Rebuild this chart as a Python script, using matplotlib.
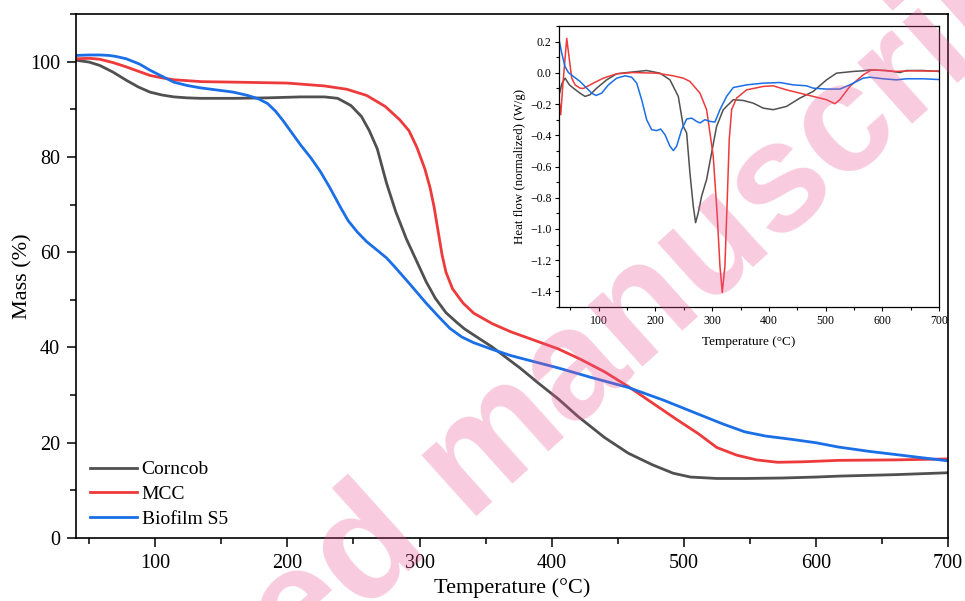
import numpy as np
import matplotlib
matplotlib.use('Agg')
import matplotlib.pyplot as plt
from matplotlib.ticker import MultipleLocator

plt.rcParams['font.family'] = ['Liberation Serif', 'DejaVu Serif']

# --- TGA curves (main panel) ---
corncob_T = [40, 50, 58, 68, 78, 87, 96, 105, 114, 124, 134, 160, 185, 210, 228, 238, 248, 256, 262, 268,
             275, 282, 290, 298, 305, 312, 320, 328, 334, 345, 355, 365, 376, 390, 405, 420, 440, 458,
             476, 492, 505, 525, 547, 575, 600, 618, 660, 700]
corncob_m = [100.3, 99.9, 99.2, 97.8, 96.1, 94.7, 93.6, 93.0, 92.6, 92.4, 92.3, 92.3, 92.4, 92.6, 92.6,
             92.3, 90.8, 88.5, 85.5, 81.7, 74.5, 68.5, 62.8, 58.0, 53.8, 50.3, 47.3, 45.3, 43.9, 41.9,
             40.1, 38.0, 35.7, 32.5, 29.2, 25.5, 21.1, 17.8, 15.4, 13.6, 12.8, 12.5, 12.5, 12.6, 12.8,
             13.0, 13.3, 13.7]

mcc_T = [40, 50, 58, 68, 78, 87, 96, 105, 114, 135, 159, 200, 228, 245, 260, 274, 285, 292, 298, 304,
         308, 311, 314, 317, 320, 325, 333, 341, 355, 369, 387, 405, 422, 440, 458, 476, 494, 511, 525,
         540, 555, 571, 590, 617, 660, 700]
mcc_m = [100.6, 100.7, 100.5, 99.8, 98.9, 98.0, 97.1, 96.6, 96.2, 95.8, 95.7, 95.5, 94.9, 94.2, 92.9,
         90.6, 87.8, 85.5, 82.0, 77.5, 73.5, 69.5, 64.5, 59.5, 55.8, 52.3, 49.3, 47.2, 45.0, 43.3, 41.5,
         39.7, 37.5, 34.9, 31.8, 28.4, 25.0, 21.9, 19.0, 17.4, 16.4, 15.9, 16.0, 16.3, 16.4, 16.6]

bio_T = [40, 50, 58, 65, 70, 78, 88, 96, 106, 114, 124, 134, 148, 159, 170, 178, 185, 191, 197, 204, 210,
         218, 225, 232, 240, 246, 253, 260, 268, 275, 281, 293, 305, 314, 323, 332, 341, 355, 369, 387,
         405, 430, 458, 485, 511, 530, 546, 562, 582, 600, 617, 640, 670, 700]
bio_m = [101.3, 101.4, 101.4, 101.3, 101.1, 100.6, 99.5, 98.2, 96.8, 95.7, 95.0, 94.5, 94.0, 93.6, 92.9,
         92.2, 91.2, 89.6, 87.5, 84.8, 82.5, 79.7, 76.9, 73.6, 69.5, 66.6, 64.2, 62.2, 60.4, 58.8, 57.0,
         53.2, 49.3, 46.6, 44.0, 42.2, 41.0, 39.6, 38.3, 37.0, 35.7, 33.7, 31.6, 28.9, 26.0, 23.9, 22.3,
         21.4, 20.7, 20.0, 19.1, 18.2, 17.2, 16.2]

# --- DSC curves (inset) ---
dsc_corncob_T = [31, 35, 40.6, 48.3, 55.3, 67, 75.9, 84.7, 96.4, 114, 131.7, 155.1, 184.5, 208, 225.6,
                 240.3, 249.1, 255, 260.8, 266.7, 270.8, 275.5, 281.4, 290.2, 299, 307.8, 319.6, 337.2,
                 354.8, 372.4, 390, 407.6, 431.1, 454.6, 478.1, 501.6, 519.2, 548.6, 566.2, 578, 607.3,
                 630.8, 642.5, 671.9, 700]
dsc_corncob_hf = [-0.13, -0.07, -0.034, -0.077, -0.098, -0.13, -0.151, -0.14, -0.098, -0.045, -0.006,
                  0.004, 0.015, -0.002, -0.045, -0.151, -0.343, -0.385, -0.641, -0.854, -0.96, -0.896,
                  -0.79, -0.683, -0.513, -0.343, -0.236, -0.172, -0.177, -0.194, -0.226, -0.236, -0.215,
                  -0.162, -0.119, -0.045, -0.002, 0.009, 0.013, 0.019, 0.015, 0.002, 0.015, 0.015, 0.009]

dsc_mcc_T = [31, 33, 36.5, 43.6, 48.3, 52.4, 58.3, 67, 73, 90.5, 108.2, 131.7, 161, 202.1, 231.5, 249.1,
             260.8, 278.5, 290.2, 296.1, 301.9, 309, 313.7, 317.8, 322.5, 326.6, 330.1, 334.3, 343, 360.7,
             390, 407.6, 431.1, 454.6, 478.1, 501.6, 516.3, 525.1, 542.7, 566.2, 580.9, 601.4, 624.9,
             648.4, 700]
dsc_mcc_hf = [-0.2, -0.268, -0.087, 0.221, 0.083, -0.034, -0.077, -0.098, -0.1, -0.066, -0.034, -0.006,
              0.002, -0.002, -0.019, -0.034, -0.055, -0.13, -0.236, -0.385, -0.534, -0.917, -1.237,
              -1.407, -1.237, -0.811, -0.428, -0.236, -0.162, -0.109, -0.087, -0.083, -0.109, -0.13,
              -0.151, -0.172, -0.198, -0.172, -0.087, -0.013, 0.019, 0.015, 0.009, 0.013, 0.011]

dsc_bio_T = [30.7, 34.8, 40.6, 46.5, 55.3, 67, 78.8, 87.6, 95.3, 105.2, 117, 131.7, 146.3, 158.1, 167,
             175.7, 184.5, 193.3, 202.1, 209.2, 216.8, 225.6, 231.5, 237.4, 246.2, 255, 263.8, 272.6,
             278.5, 287.3, 296.1, 304.9, 313.7, 325.4, 337.2, 360.7, 390, 419.4, 442.9, 466.4, 478.1,
             501.6, 525.1, 542.7, 566.2, 578, 601.4, 624.9, 642.5, 671.9, 700]
dsc_bio_hf = [0.2, 0.126, 0.04, 0.002, -0.023, -0.055, -0.098, -0.13, -0.145, -0.13, -0.077, -0.034,
              -0.019, -0.028, -0.066, -0.172, -0.3, -0.364, -0.37, -0.36, -0.396, -0.47, -0.498, -0.47,
              -0.364, -0.296, -0.29, -0.311, -0.321, -0.3, -0.311, -0.315, -0.236, -0.151, -0.094,
              -0.077, -0.066, -0.062, -0.077, -0.083, -0.098, -0.104, -0.104, -0.077, -0.034, -0.028,
              -0.038, -0.045, -0.038, -0.038, -0.043]

labels = ['Corncob', 'MCC', 'Biofilm S5']
cols = ['#505050', '#EE3A3A', '#1A6EE6']

fig = plt.figure(figsize=(9.65, 6.01), dpi=100)
ax = fig.add_axes([0.0788, 0.1048, 0.9036, 0.8719])

for T, m, lab, c in zip([corncob_T, mcc_T, bio_T], [corncob_m, mcc_m, bio_m], labels, cols):
    ax.plot(T, m, color=c, lw=2.0, label=lab, solid_joinstyle='round')

ax.set_xlim(40, 700)
ax.set_ylim(0, 110)
ax.xaxis.set_major_locator(MultipleLocator(100))
ax.xaxis.set_minor_locator(MultipleLocator(50))
ax.yaxis.set_major_locator(MultipleLocator(20))
ax.yaxis.set_minor_locator(MultipleLocator(10))
ax.tick_params(which='major', direction='out', length=6.5, width=1.1, labelsize=14.5, pad=5)
ax.tick_params(which='minor', direction='out', length=4, width=1.1)
for s in ax.spines.values():
    s.set_linewidth(1.2)
ax.set_xlabel('Temperature (°C)', fontsize=16, labelpad=4)
ax.set_ylabel('Mass (%)', fontsize=16)
ax.yaxis.set_label_coords(-0.05, 0.5)
ax.legend(loc='lower left', bbox_to_anchor=(0.016, 0.02), frameon=False, fontsize=14,
          handlelength=2.4, handletextpad=0.25, labelspacing=0.36, borderpad=0, borderaxespad=0)

# inset
ins = fig.add_axes([0.5793, 0.4892, 0.3938, 0.4675])
for T, h, c in zip([dsc_corncob_T, dsc_mcc_T, dsc_bio_T], [dsc_corncob_hf, dsc_mcc_hf, dsc_bio_hf], cols):
    ins.plot(T, h, color=c, lw=1.1, solid_joinstyle='round')
ins.set_xlim(30, 700)
ins.set_ylim(-1.5, 0.3)
ins.xaxis.set_major_locator(MultipleLocator(100))
ins.xaxis.set_minor_locator(MultipleLocator(50))
ins.yaxis.set_major_locator(MultipleLocator(0.2))
ins.yaxis.set_minor_locator(MultipleLocator(0.1))
ins.tick_params(which='major', direction='out', length=3, width=0.8, labelsize=8.5, pad=2.5)
ins.tick_params(which='minor', direction='out', length=2, width=0.8)
for s in ins.spines.values():
    s.set_linewidth(0.9)
ins.set_xlabel('Temperature (°C)', fontsize=9.5, labelpad=7)
ins.set_ylabel('Heat flow (normalized) (W/g)', fontsize=9.3, labelpad=3)

# watermark
ang = 42
u = np.array([np.cos(np.radians(ang)), np.sin(np.radians(ang))])
p0 = np.array([466, 601 - 516]) / np.array([965, 601])
fs = 112
em = fs * 100 / 72
gap = 0.3 * em * u / np.array([965, 601])
wm = dict(fontsize=fs, fontweight='bold', family='Liberation Sans', color='#E85591', alpha=0.3,
          rotation=ang, rotation_mode='anchor', va='baseline')
fig.text(p0[0], p0[1], 'manuscript', ha='left', **wm)
fig.text(p0[0] - gap[0], p0[1] - gap[1], 'Accepted', ha='right', **wm)

fig.savefig('out.png', dpi=100)
